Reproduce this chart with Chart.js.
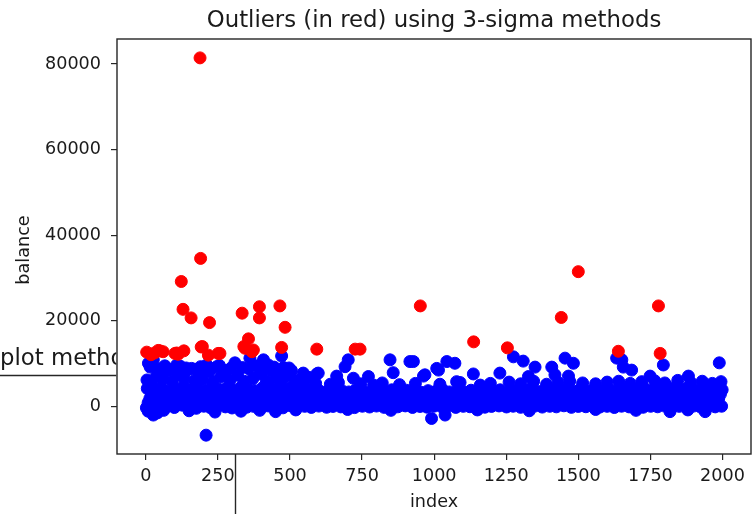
<!DOCTYPE html>
<html>
<head>
<meta charset="utf-8">
<script src="https://cdn.jsdelivr.net/npm/chart.js@4.4.1/dist/chart.umd.min.js"></script>
<style>
  html, body { margin: 0; padding: 0; background: #fff; }
  #wrap { width: 753px; height: 514px; }
</style>
</head>
<body>
<div id="wrap"><canvas id="outlierChart" width="753" height="514"></canvas></div>
<script>
// scatter of balance by row index, 3-sigma outliers in red
const titleText = "Outliers (in red) using 3-sigma methods";
const yLabel = "balance";
const xTicks = [0, 250, 500, 750, 1000, 1250, 1500, 1750, 2000];
const yTicks = [0, 20000, 40000, 60000, 80000];

// [index, balance]
const redOutliers = [
  [3, 12700], [18, 12100], [30, 12500], [43, 13100], [49, 13000], [60, 12800],
  [101, 12400], [107, 12500], [112, 12200], [123, 29200], [129, 22700], [132, 13000],
  [157, 20700], [188, 81450], [190, 34600], [192, 13900], [196, 14000], [217, 12000],
  [221, 19600], [251, 12400], [257, 12400], [334, 21800], [340, 14000], [344, 13600],
  [356, 15800], [368, 12800], [373, 13200], [394, 23300], [394, 20700], [465, 23500],
  [471, 13800], [483, 18500], [593, 13400], [726, 13400], [743, 13400], [952, 23500],
  [1137, 15100], [1254, 13700], [1441, 20800], [1500, 31500], [1639, 12900],
  [1778, 23500], [1784, 12400]
];

const blueBandLow = [
  [2, -320], [27, 150], [51, -610], [76, 80], [99, -240], [126, 310], [149, -150], [175, -420],
  [201, 60], [224, -280], [250, 190], [276, -90], [299, -350], [326, 240], [350, -170], [374, 30],
  [401, -260], [425, 120], [449, -60], [476, -310], [502, 170], [525, -140], [551, 40], [574, -220],
  [600, 90], [627, -180], [649, 20], [676, -90], [700, 150], [724, -260], [751, 60], [776, -120],
  [800, 110], [826, -200], [849, 30], [874, -80], [900, 140], [925, -230], [951, 10], [975, -150],
  [1000, 80], [1026, -90], [1049, 120], [1075, -210], [1101, 40], [1124, -60], [1150, 90], [1176, -170],
  [1199, 20], [1225, 130], [1251, -110], [1274, 60], [1300, -190], [1326, 30], [1350, 100], [1375, -140],
  [1401, 50], [1424, -80], [1450, 160], [1476, -200], [1500, 20], [1526, -60], [1549, 110], [1575, -130],
  [1600, 40], [1625, -240], [1650, 70], [1676, -90], [1700, 130], [1725, -180], [1751, 50], [1775, -70],
  [1800, 90], [1826, -210], [1850, 30], [1874, -120], [1900, 100], [1925, -160], [1950, 40], [1975, -90],
  [1997, 60]
];

const blueBandLowMid = [
  [8, 900], [33, 1200], [57, 700], [82, 1100], [106, 800], [131, 1300], [155, 950], [181, 700],
  [206, 1150], [230, 850], [256, 1050], [282, 750], [305, 1250], [332, 900], [356, 1100], [380, 700],
  [407, 1000], [431, 1200], [455, 800], [482, 1050], [508, 900], [531, 1150], [557, 750], [580, 1000],
  [606, 850], [633, 1100], [655, 700], [682, 950], [706, 1050], [730, 800], [757, 1000], [782, 750],
  [806, 1100], [832, 900], [855, 800], [880, 1050], [906, 950], [931, 700], [957, 1000], [981, 850],
  [1006, 1100], [1032, 800], [1055, 950], [1081, 750], [1107, 1050], [1130, 900], [1156, 1000], [1182, 800],
  [1205, 1100], [1231, 750], [1257, 950], [1280, 1050], [1306, 800], [1332, 1000], [1356, 900], [1381, 1100],
  [1407, 750], [1430, 1000], [1456, 850], [1482, 1050], [1506, 900], [1532, 1100], [1555, 800], [1581, 1000],
  [1606, 750], [1631, 1050], [1656, 900], [1682, 1100], [1706, 800], [1731, 1000], [1757, 850], [1781, 1050],
  [1806, 750], [1832, 1000], [1856, 900], [1880, 1100], [1906, 800], [1931, 1000], [1956, 900], [1981, 1050]
];

const blueBandMid = [
  [14, 1850], [39, 2300], [63, 1600], [88, 2450], [112, 1900], [138, 2200], [162, 1700], [187, 2500],
  [212, 1950], [237, 2350], [262, 1800], [288, 2100], [312, 2600], [337, 1750], [362, 2250], [387, 1900],
  [412, 2400], [437, 2050], [462, 1700], [488, 2300], [513, 1950], [538, 2150], [562, 1800], [588, 2050],
  [612, 1650], [638, 2000], [662, 1800], [688, 2200], [712, 1700], [737, 1950], [763, 1850], [788, 2100],
  [812, 1600], [838, 1950], [862, 1750], [887, 2050], [912, 1800], [938, 1700], [963, 2000], [988, 1850],
  [1012, 1750], [1038, 2050], [1062, 1900], [1088, 1700], [1112, 2000], [1137, 1800], [1162, 1950], [1188, 1650],
  [1212, 2100], [1238, 1850], [1262, 1750], [1288, 2000], [1312, 1800], [1338, 2050], [1362, 1700], [1388, 1950],
  [1412, 1850], [1438, 2100], [1462, 1800], [1488, 1950], [1512, 1700], [1538, 2050], [1562, 1900], [1588, 1750],
  [1612, 2100], [1638, 1850], [1662, 2000], [1688, 1700], [1712, 2150], [1738, 1850], [1762, 1950], [1788, 1800],
  [1812, 2100], [1838, 1750], [1862, 2000], [1887, 1850], [1912, 2050], [1938, 1700], [1962, 1950], [1987, 1850]
];

const blueBandMidHigh = [
  [20, 3000], [45, 2800], [69, 3200], [94, 2900], [118, 3100], [143, 2750], [168, 3300], [193, 2900],
  [218, 3050], [243, 2800], [268, 3200], [294, 2950], [318, 3100], [343, 2850], [368, 3000], [393, 3250],
  [418, 2800], [443, 3100], [468, 2950], [494, 3200], [519, 2850], [543, 3050], [568, 2900], [592, 3100],
  [618, 2800], [645, 3000], [668, 2850], [694, 3050], [718, 2750], [742, 2950], [769, 2800], [794, 3000],
  [818, 2850], [844, 2700], [868, 2950], [892, 2800], [918, 3000], [943, 2850], [969, 2700], [993, 2900],
  [1018, 2800], [1044, 2950], [1068, 2750], [1093, 2900], [1119, 2800], [1143, 2950], [1168, 2700], [1194, 2850],
  [1218, 3000], [1243, 2800], [1269, 2900], [1293, 2750], [1318, 2950], [1344, 2850], [1369, 3000], [1393, 2800],
  [1419, 2950], [1443, 2850], [1469, 3050], [1494, 2800], [1519, 2950], [1544, 2850], [1568, 3000], [1594, 2900],
  [1619, 3100], [1644, 2850], [1669, 3050], [1694, 2900], [1718, 3100], [1744, 2950], [1769, 3000], [1794, 2900],
  [1818, 3100], [1844, 2950], [1868, 3050], [1893, 2900], [1918, 3100], [1944, 2950], [1968, 3000], [1993, 2900]
];

const blueBandHigh = [
  [5, 4200], [30, 3800], [55, 4500], [80, 3600], [104, 4100], [130, 4700], [153, 3900], [179, 4400],
  [205, 3700], [228, 4600], [254, 4000], [280, 4300], [303, 3800], [330, 4500], [354, 4100], [378, 3700],
  [405, 4400], [429, 4800], [453, 3900], [480, 4200], [506, 4600], [529, 3800], [555, 4300], [578, 3900],
  [604, 3600], [631, 3500], [653, 4100], [680, 3700], [704, 3400], [728, 3900], [755, 3600], [780, 3300],
  [804, 3700], [830, 3500], [853, 3900], [878, 3400], [904, 3800], [929, 3600], [955, 3300], [979, 3700],
  [1004, 3500], [1030, 3900], [1053, 3400], [1079, 3700], [1105, 3300], [1128, 3800], [1154, 3600], [1180, 3200],
  [1203, 3700], [1229, 3900], [1255, 3400], [1278, 3800], [1304, 3500], [1330, 4000], [1354, 3600], [1379, 3800],
  [1405, 3900], [1428, 3500], [1454, 4100], [1480, 3700], [1504, 3900], [1530, 3600], [1553, 4000], [1579, 3800],
  [1604, 4200], [1629, 3700], [1654, 4400], [1680, 3900], [1704, 4100], [1729, 4300], [1755, 3800], [1779, 4200],
  [1804, 3900], [1830, 4400], [1854, 4000], [1878, 4300], [1904, 3800], [1929, 4200], [1954, 4000], [1979, 4500],
  [1999, 3900]
];

const blueUpper = [
  [4, 6200], [20, 5600], [37, 7100], [58, 6400], [71, 8200], [92, 5900], [110, 7400], [133, 6600],
  [146, 8600], [168, 6000], [183, 7700], [196, 6300], [219, 8100], [233, 5800], [259, 6900], [271, 8400],
  [292, 6100], [318, 7300], [341, 5900], [357, 8800], [371, 6500], [394, 7600], [418, 6000], [437, 8300],
  [452, 6700], [468, 5700], [486, 7000], [497, 9000], [519, 6200], [543, 5500], [566, 6800], [589, 5400],
  [640, 5200], [668, 5600], [745, 5300], [790, 5000], [820, 5500], [880, 5100], [935, 5400], [1020, 5200],
  [1090, 5600], [1160, 5000], [1195, 5400], [1260, 5700], [1300, 5300], [1345, 5900], [1390, 5200], [1430, 5600],
  [1470, 5900], [1515, 5500], [1560, 5300], [1600, 5700], [1640, 5900], [1680, 5400], [1720, 5800], [1765, 6000],
  [1800, 5500], [1845, 6100], [1890, 5600], [1930, 5900], [1965, 5400], [1995, 5800],
  [15, 9200], [48, 8800], [66, 9500], [85, 8600], [120, 9400], [140, 9000], [175, 8700], [190, 9300],
  [228, 8900], [255, 9600], [280, 8400], [296, 9000], [335, 9100], [385, 9500], [415, 8700], [445, 9200],
  [478, 9100], [505, 8400]
];

const blueScatter = [
  [9, 10100], [26, 10900], [107, 9700], [159, 8900], [211, 9700], [246, 9300], [309, 10200], [361, 11300],
  [408, 10900], [471, 11800], [460, 7800], [425, 9700], [593, 7600], [598, 7800], [546, 7800], [662, 7100],
  [702, 10900], [691, 9300], [720, 6600], [772, 7000], [847, 10900], [858, 7900], [916, 10500], [928, 10500],
  [963, 7100], [968, 7400], [1009, 8900], [1015, 8500], [1044, 10500], [1072, 10100], [1078, 5800], [1136, 7600],
  [1228, 7800], [1275, 11600], [1309, 10600], [1327, 7000], [1350, 9200], [1408, 9200], [1419, 7400], [1454, 11300],
  [1466, 7100], [1483, 10100], [1633, 11300], [1651, 10900], [1656, 9200], [1685, 8500], [1749, 7100], [1795, 9700],
  [1882, 7100], [1989, 10200]
];

const blueBelow = [
  [8, -1100], [26, -2000], [40, -1500], [62, -900], [150, -1000], [209, -6700], [240, -1300], [330, -1100],
  [395, -900], [450, -1200], [520, -800], [700, -700], [850, -900], [991, -2800], [1038, -2000], [1150, -800],
  [1330, -1000], [1560, -700], [1700, -900], [1818, -1200], [1880, -800], [1940, -1200]
];

const toPoints = (rows) => rows.map(([x, y]) => ({ x, y }));
const bluePoints = toPoints([
  ...blueBandLow, ...blueBandLowMid, ...blueBandMid, ...blueBandMidHigh, ...blueBandHigh,
  ...blueUpper, ...blueScatter, ...blueBelow
]);

const textColor = "#1a1a1a";
const tickFont = { family: "DejaVu Sans", size: 17.6 };

// frame, title, y label and the pieces of the neighbouring figure
const decorPlugin = {
  id: "decor",
  afterDraw(chart) {
    const { ctx, chartArea: a } = chart;
    ctx.save();
    ctx.strokeStyle = "#262626";
    ctx.lineWidth = 1.4;
    ctx.strokeRect(a.left, a.top, a.right - a.left, a.bottom - a.top);

    ctx.fillStyle = textColor;
    ctx.font = '22.8px "DejaVu Sans"';
    ctx.textAlign = "center";
    ctx.textBaseline = "alphabetic";
    ctx.fillText(titleText, (a.left + a.right) / 2, 27);

    ctx.save();
    ctx.translate(24, 250);
    ctx.rotate(-Math.PI / 2);
    ctx.font = '17.6px "DejaVu Sans"';
    ctx.textBaseline = "middle";
    ctx.fillText(yLabel, 0, 0);
    ctx.restore();

    ctx.save();
    ctx.beginPath();
    ctx.rect(0, 0, a.left - 0.7, chart.height);
    ctx.clip();
    ctx.textAlign = "left";
    ctx.fillText("plot methods", 0, 365);
    ctx.beginPath();
    ctx.moveTo(0, 375.5);
    ctx.lineTo(a.left, 375.5);
    ctx.stroke();
    ctx.restore();

    ctx.beginPath();
    ctx.moveTo(235.5, a.bottom);
    ctx.lineTo(235.5, chart.height);
    ctx.stroke();
    ctx.restore();
  },
};

new Chart(document.getElementById("outlierChart").getContext("2d"), {
  type: "scatter",
  data: {
    datasets: [
      {
        label: "outliers",
        data: toPoints(redOutliers),
        backgroundColor: "#ff0000",
        borderColor: "#ff0000",
        pointRadius: 6,
        borderWidth: 1,
        order: 0,
      },
      {
        label: "normal",
        data: bluePoints,
        backgroundColor: "#0000ff",
        borderColor: "#0000ff",
        pointRadius: 6,
        borderWidth: 1,
        order: 1,
      },
    ],
  },
  options: {
    responsive: false,
    animation: false,
    devicePixelRatio: 1,
    layout: { autoPadding: false, padding: { top: 39, right: 2, left: 0, bottom: 0 } },
    plugins: {
      legend: { display: false },
      tooltip: { enabled: false },
    },
    scales: {
      x: {
        type: "linear",
        min: -100,
        max: 2099,
        afterBuildTicks: (axis) => { axis.ticks = xTicks.map((value) => ({ value })); },
        afterFit: (axis) => {
          axis.height = 60;
          axis.paddingLeft = 0;
          axis.paddingRight = 0;
        },
        ticks: {
          callback: (v) => String(v),
          font: tickFont,
          color: textColor,
          padding: 6,
          maxRotation: 0,
          autoSkip: false,
        },
        grid: { drawOnChartArea: false, tickLength: 6, color: "#262626", lineWidth: 1.2 },
        border: { display: false },
        title: {
          display: true,
          text: "index",
          font: tickFont,
          color: textColor,
          padding: { top: 0, bottom: 1 },
        },
      },
      y: {
        type: "linear",
        min: -11100,
        max: 85860,
        afterBuildTicks: (axis) => { axis.ticks = yTicks.map((value) => ({ value })); },
        afterFit: (axis) => {
          axis.width = 117;
          axis.paddingTop = 0;
          axis.paddingBottom = 0;
        },
        ticks: {
          callback: (v) => String(v),
          font: tickFont,
          color: textColor,
          padding: 10,
          autoSkip: false,
        },
        grid: { drawOnChartArea: false, tickLength: 6, color: "#262626", lineWidth: 1.2 },
        border: { display: false },
      },
    },
  },
  plugins: [decorPlugin],
});
</script>
</body>
</html>
